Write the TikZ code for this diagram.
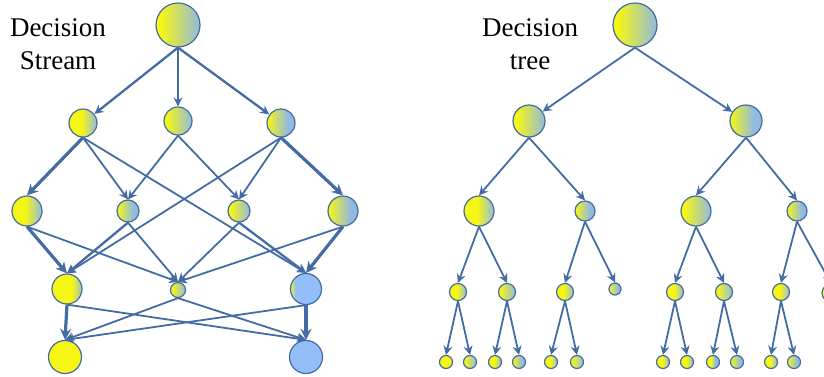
\documentclass[tikz,border=0pt]{standalone}
\usepackage{fontspec}
\setmainfont{Liberation Serif}
\usetikzlibrary{arrows.meta,shapes}
\definecolor{dsyel}{RGB}{246,246,20}
\definecolor{dsgray}{RGB}{146,186,224}
\definecolor{dsblu}{RGB}{147,190,247}
\definecolor{dsline}{RGB}{68,108,163}
% yellow -> gray-blue, node spans 25bp..75bp
\newcommand{\ballshade}[3]{%
  \pgfdeclarehorizontalshading{#1}{100bp}{color(0bp)=(dsyel); color(#2)=(dsyel); color(#3)=(dsgray); color(100bp)=(dsgray)}}
\ballshade{shYY}{58bp}{78bp}
\ballshade{shY}{47bp}{75bp}
\ballshade{shM}{30bp}{75bp}
\ballshade{shB}{26bp}{62bp}
\ballshade{shS}{45bp}{55bp}
\pgfdeclarehorizontalshading{shC}{100bp}{color(0bp)=(dsyel); color(25bp)=(dsyel); color(33bp)=(dsblu); color(100bp)=(dsblu)}
\tikzstyle{ball} = [circle, draw=dsline, line width=1.2pt, inner sep=0pt]
\tikzstyle{byy} = [ball, shading=shYY]
\tikzstyle{by} = [ball, shading=shY]
\tikzstyle{bm} = [ball, shading=shM]
\tikzstyle{bb} = [ball, shading=shB]
\tikzstyle{bs} = [ball, shading=shS]
\tikzstyle{bc} = [ball, shading=shC]
\tikzstyle{lnk} = [color=dsline, line width=1.8pt, -{Stealth[length=9pt,width=9pt,inset=3pt]}]
\tikzstyle{lnkm} = [lnk, line width=2.3pt]
\tikzstyle{lnkt} = [lnk, line width=3.2pt, -{Stealth[length=11pt,width=11pt,inset=3.5pt]}]
\tikzstyle{lbl} = [align=center, inner sep=0pt, font=\fontsize{27}{33}\selectfont]

\begin{document}
\begin{tikzpicture}[x=1pt,y=-1pt]
  \useasboundingbox (0,0) rectangle (824,376);

  % Decision Stream
  \node[lbl] (tS) at (58,44) {Decision\\Stream};
  \node[bm,minimum size=44pt] (R) at (178,25) {};
  \node[by,minimum size=28pt] (A1) at (83,123) {};
  \node[bm,minimum size=28pt] (A2) at (178,121) {};
  \node[bb,minimum size=28pt] (A3) at (281,123) {};
  \node[by,minimum size=30pt] (B1) at (27,211) {};
  \node[bb,minimum size=22pt] (B2) at (128,211) {};
  \node[bm,minimum size=22pt] (B3) at (239,211) {};
  \node[bb,minimum size=30pt] (B4) at (343,211) {};
  \node[byy,minimum size=30pt] (C1) at (67,289) {};
  \node[bm,minimum size=15pt] (C2) at (178,290) {};
  \node[bc,minimum size=31pt] (C3) at (306,289) {};
  \node[ball,fill=dsyel,minimum size=33pt] (D1) at (65,357) {};
  \node[ball,fill=dsblu,minimum size=33pt] (D2) at (306,357) {};

  \path[lnkm] (R.south) edge (A1) (R.south) edge (A2) (R.south) edge (A3);
  \path[lnkt] (A1.south) edge (B1.north);
  \path[lnk] (A1.south) edge (B2.north) (A1.south) edge (C3.north);
  \path[lnk] (A2.south) edge (B2.north) (A2.south) edge (B3.north);
  \path[lnk] (A3.south) edge (C1.north) (A3.south) edge (B3.north);
  \path[lnkt] (A3.south) edge (B4.north);
  \path[lnkt] (B1.south) edge (C1.north);
  \path[lnk] (B1.south) edge (C2.north);
  \path[lnkm] (B2.south) edge (C1.north);
  \path[lnk] (B2.south) edge (C2.north);
  \path[lnk] (B3.south) edge (C2.north);
  \path[lnkm] (B3.south) edge (C3.north);
  \path[lnk] (B4.south) edge (C2.north);
  \path[lnkt] (B4.south) edge (C3.north);
  \path[lnkt] (C1.south) edge (D1.north);
  \path[lnk] (C1.south) edge (D2.north);
  \path[lnk] (C2.south) edge (D1.north) (C2.south) edge (D2.north);
  \path[lnk] (C3.south) edge (D1.north);
  \path[lnkt] (C3.south) edge (D2.north);

  % Decision tree
  \node[lbl] (tT) at (530,44) {Decision\\tree};
  \node[bm,minimum size=44pt] (T) at (635,25) {};
  \node[bm,minimum size=32pt] (L) at (529,121) {};
  \node[bb,minimum size=32pt] (Rt) at (746,121) {};
  \node[by,minimum size=30pt] (LL) at (479,211) {};
  \node[bb,minimum size=20pt] (LR) at (585,211) {};
  \node[bm,minimum size=30pt] (RL) at (696,211) {};
  \node[bb,minimum size=20pt] (RR) at (797,211) {};
  \node[by,minimum size=17pt] (LLL) at (458,292) {};
  \node[bm,minimum size=17pt] (LLR) at (507,292) {};
  \node[by,minimum size=17pt] (LRL) at (565,292) {};
  \node[bb,minimum size=12pt] (LRR) at (615,289) {};
  \node[by,minimum size=17pt] (RLL) at (675,292) {};
  \node[bm,minimum size=17pt] (RLR) at (724,292) {};
  \node[by,minimum size=17pt] (RRL) at (781,292) {};
  \node[bm,minimum size=18pt] (RRR) at (831,293) {};
  \node[ball,fill=dsyel,minimum size=13pt] (LLLL) at (446,362) {};
  \node[bm,minimum size=13pt] (LLLR) at (470,362) {};
  \node[by,minimum size=13pt] (LLRL) at (495,362) {};
  \node[bb,minimum size=13pt] (LLRR) at (519,362) {};
  \node[by,minimum size=13pt] (LRLL) at (551,362) {};
  \node[bm,minimum size=13pt] (LRLR) at (577,362) {};
  \node[by,minimum size=13pt] (RLLL) at (663,362) {};
  \node[by,minimum size=13pt] (RLLR) at (687,362) {};
  \node[bs,minimum size=13pt] (RLRL) at (713,362) {};
  \node[bb,minimum size=13pt] (RLRR) at (737,362) {};
  \node[by,minimum size=13pt] (RRLL) at (771,362) {};
  \node[bb,minimum size=13pt] (RRLR) at (794,362) {};

  \path[lnk] (T.south) edge (L) (T.south) edge (Rt);
  \path[lnk] (L.south) edge (LL.north) (L.south) edge (LR.north);
  \path[lnk] (Rt.south) edge (RL.north) (Rt.south) edge (RR.north);
  \path[lnk] (LL.south) edge (LLL.north) (LL.south) edge (LLR.north);
  \path[lnk] (LR.south) edge (LRL.north) (LR.south) edge (LRR.north);
  \path[lnk] (RL.south) edge (RLL.north) (RL.south) edge (RLR.north);
  \path[lnk] (RR.south) edge (RRL.north) (RR.south) edge (RRR.north);
  \path[lnk] (LLL.south) edge (LLLL.north) (LLL.south) edge (LLLR.north);
  \path[lnk] (LLR.south) edge (LLRL.north) (LLR.south) edge (LLRR.north);
  \path[lnk] (LRL.south) edge (LRLL.north) (LRL.south) edge (LRLR.north);
  \path[lnk] (RLL.south) edge (RLLL.north) (RLL.south) edge (RLLR.north);
  \path[lnk] (RLR.south) edge (RLRL.north) (RLR.south) edge (RLRR.north);
  \path[lnk] (RRL.south) edge (RRLL.north) (RRL.south) edge (RRLR.north);
\end{tikzpicture}
\end{document}
